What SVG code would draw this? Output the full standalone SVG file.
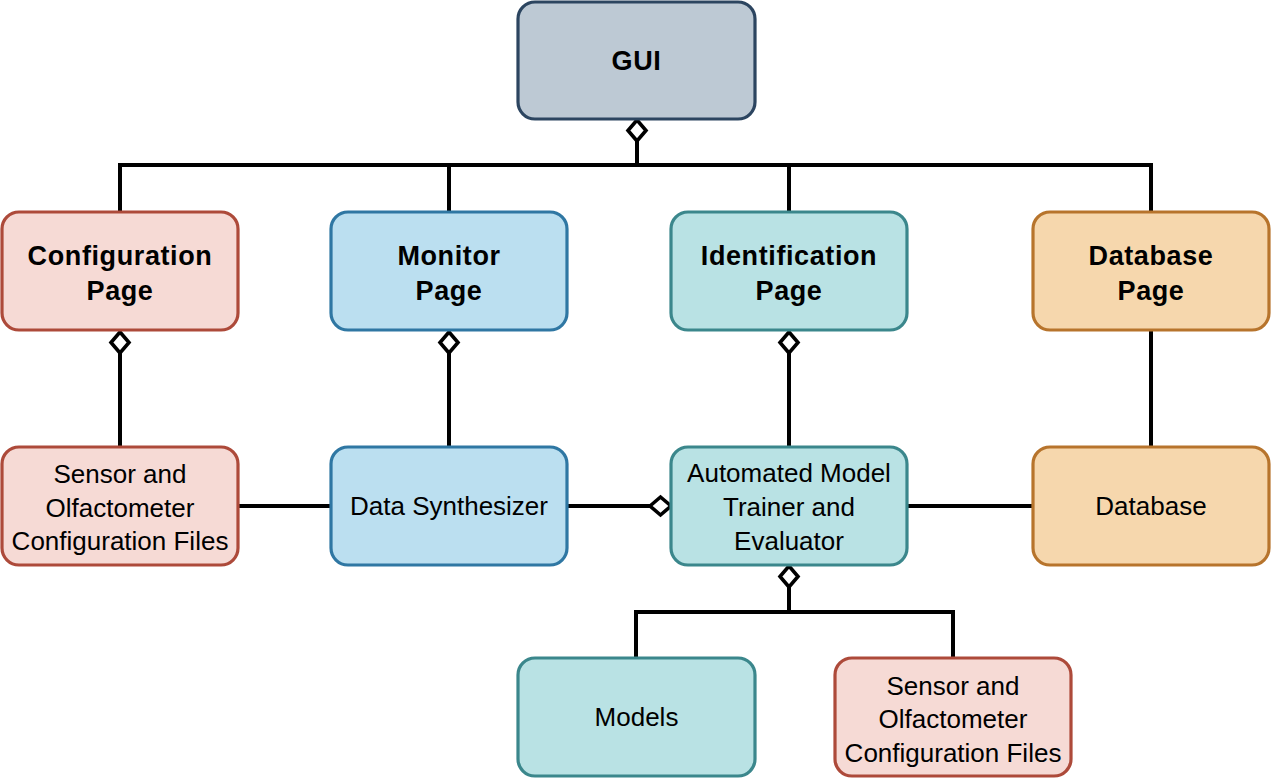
<svg xmlns="http://www.w3.org/2000/svg" width="1272" height="779" viewBox="0 0 1272 779">
<style>
.box{stroke-width:3.2}
.gui{fill:#bdc9d4;stroke:#2c4560}
.pink{fill:#f6dad5;stroke:#ad4a3a}
.blue{fill:#bbdff0;stroke:#2f77a3}
.teal{fill:#b9e2e4;stroke:#3b878c}
.orange{fill:#f6d7ad;stroke:#b7742c}
text{font-family:"Liberation Sans",Arial,Helvetica,sans-serif;font-size:26px;fill:#000;text-anchor:middle;dominant-baseline:central}
.b{font-weight:bold;font-size:27px;letter-spacing:0.6px}
.c{fill:none;stroke:#000;stroke-width:4}
</style>
<defs>
<marker id="dia" viewBox="-3 -12 27 24" refX="21" refY="0" markerWidth="27" markerHeight="24" markerUnits="userSpaceOnUse" orient="auto" overflow="visible">
<path d="M0,0 L10.5,-9 L21,0 L10.5,9 Z" fill="#fff" stroke="#000" stroke-width="3.6" stroke-linejoin="miter"/>
</marker>
</defs>
<g id="connectors">
<path class="c" d="M120,212 V165 H1151 V212"/>
<path class="c" d="M449,165 V212"/>
<path class="c" d="M789,165 V212"/>
<path class="c" d="M637,165 V120" marker-end="url(#dia)"/>
<path class="c" d="M120,447 V332" marker-end="url(#dia)"/>
<path class="c" d="M449,447 V332" marker-end="url(#dia)"/>
<path class="c" d="M789,447 V332" marker-end="url(#dia)"/>
<path class="c" d="M1151,330 V447"/>
<path class="c" d="M238,506 H331"/>
<path class="c" d="M567,506 H671" marker-end="url(#dia)"/>
<path class="c" d="M907,506 H1033"/>
<path class="c" d="M789,612 V566" marker-end="url(#dia)"/>
<path class="c" d="M636,658 V612 H953 V658"/>
</g>
<g id="gui">
<rect class="box gui" x="518" y="2" width="237" height="117" rx="17"/>
<text class="b" x="636.5" y="61">GUI</text>
</g>
<g id="config-page">
<rect class="box pink" x="2" y="212" width="236" height="118" rx="17"/>
<text class="b" x="120" y="256">Configuration</text>
<text class="b" x="120" y="291">Page</text>
</g>
<g id="monitor-page">
<rect class="box blue" x="331" y="212" width="236" height="118" rx="17"/>
<text class="b" x="449" y="256">Monitor</text>
<text class="b" x="449" y="291">Page</text>
</g>
<g id="identification-page">
<rect class="box teal" x="671" y="212" width="236" height="118" rx="17"/>
<text class="b" x="789" y="256">Identification</text>
<text class="b" x="789" y="291">Page</text>
</g>
<g id="database-page">
<rect class="box orange" x="1033" y="212" width="236" height="118" rx="17"/>
<text class="b" x="1151" y="256">Database</text>
<text class="b" x="1151" y="291">Page</text>
</g>
<g id="sensor-files">
<rect class="box pink" x="2" y="447" width="236" height="118" rx="17"/>
<text x="120" y="474">Sensor and</text>
<text x="120" y="507.5">Olfactometer</text>
<text x="120" y="541">Configuration Files</text>
</g>
<g id="data-synthesizer">
<rect class="box blue" x="331" y="447" width="236" height="118" rx="17"/>
<text x="449" y="506">Data Synthesizer</text>
</g>
<g id="model-trainer">
<rect class="box teal" x="671" y="447" width="236" height="118" rx="17"/>
<text x="789" y="473">Automated Model</text>
<text x="789" y="507">Trainer and</text>
<text x="789" y="541">Evaluator</text>
</g>
<g id="database">
<rect class="box orange" x="1033" y="447" width="236" height="118" rx="17"/>
<text x="1151" y="506">Database</text>
</g>
<g id="models">
<rect class="box teal" x="518" y="658" width="237" height="118" rx="17"/>
<text x="636.5" y="717">Models</text>
</g>
<g id="sensor-files-2">
<rect class="box pink" x="835" y="658" width="236" height="118" rx="17"/>
<text x="953" y="686">Sensor and</text>
<text x="953" y="719">Olfactometer</text>
<text x="953" y="753">Configuration Files</text>
</g>
</svg>
